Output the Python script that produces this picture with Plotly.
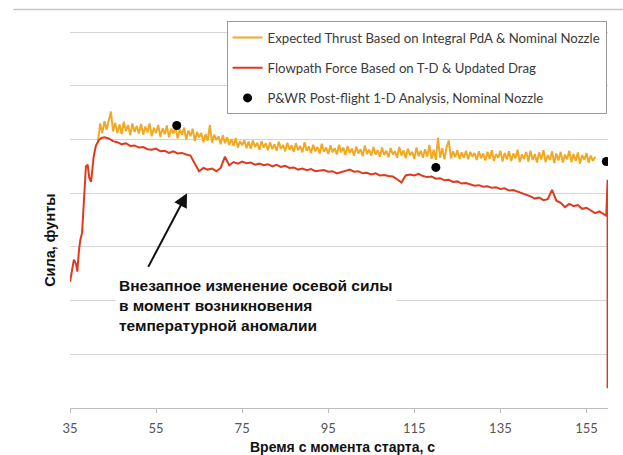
import numpy as np
import plotly.graph_objects as go

# --- Expected thrust (integral PdA, nominal nozzle), sampled every 0.5 s from 41.5 s
THRUST_T0 = 41.5
THRUST_DT = 0.5
thrust_vals = [
    4.95, 5.30, 5.12, 5.34, 5.18, 5.38, 5.52, 5.15, 5.31, 5.12,
    5.28, 5.10, 5.33, 5.16, 5.27, 5.08, 5.30, 5.14, 5.25, 5.11,
    5.29, 5.09, 5.24, 5.13, 5.30, 5.06, 5.22, 5.12, 5.27, 5.05,
    5.21, 5.10, 5.26, 5.04, 5.20, 5.11, 5.23, 5.02, 5.19, 5.09,
    5.22, 5.00, 5.17, 5.06, 5.20, 4.97, 5.14, 5.04, 5.12, 4.95,
    5.10, 4.98, 5.27, 4.94, 5.09, 4.99, 5.06, 4.91, 5.08, 4.93,
    5.04, 4.90, 5.01, 4.88, 5.03, 4.85, 4.97, 4.89, 4.99, 4.84,
    4.96, 4.83, 4.98, 4.86, 4.94, 4.81, 4.97, 4.85, 4.93, 4.80,
    4.95, 4.82, 4.91, 4.79, 4.96, 4.83, 4.90, 4.78, 4.94, 4.81,
    4.89, 4.77, 4.93, 4.80, 4.88, 4.76, 4.95, 4.79, 4.87, 4.75,
    4.90, 4.78, 4.86, 4.74, 4.92, 4.77, 4.85, 4.73, 4.89, 4.76,
    4.84, 4.72, 4.90, 4.76, 4.85, 4.71, 4.88, 4.75, 4.83, 4.70,
    4.87, 4.74, 4.82, 4.69, 4.89, 4.73, 4.81, 4.70, 4.86, 4.72,
    4.80, 4.68, 4.85, 4.71, 4.79, 4.67, 4.84, 4.72, 4.78, 4.66,
    4.86, 4.70, 4.80, 4.65, 4.83, 4.71, 4.77, 4.64, 4.85, 4.69,
    4.79, 4.66, 4.82, 4.68, 4.90, 4.64, 4.81, 4.62, 5.03, 4.66,
    4.84, 4.63, 4.86, 4.98, 4.65, 4.78, 4.67, 4.80, 4.64, 4.76,
    4.66, 4.79, 4.63, 4.77, 4.68, 4.75, 4.62, 4.78, 4.65, 4.74,
    4.61, 4.77, 4.64, 4.80, 4.60, 4.73, 4.66, 4.79, 4.59, 4.75,
    4.63, 4.78, 4.60, 4.74, 4.65, 4.81, 4.58, 4.72, 4.64, 4.77,
    4.59, 4.79, 4.62, 4.73, 4.57, 4.76, 4.63, 4.80, 4.58, 4.71,
    4.62, 4.78, 4.56, 4.74, 4.61, 4.77, 4.57, 4.72, 4.63, 4.79,
    4.58, 4.73, 4.60, 4.76, 4.55, 4.71, 4.62, 4.75, 4.57, 4.70,
    4.60, 4.68,
]

# --- Flowpath force (T-D & updated drag)
# ignition / ramp-up segment
force_ramp_t = [35.0, 35.9, 36.4, 36.7, 37.1, 37.4, 37.8, 38.2, 38.7, 39.1,
                39.5, 39.9, 40.5, 41.0, 41.7, 42.3]
force_ramp_v = [2.35, 2.76, 2.68, 2.54, 2.95, 3.13, 3.26, 3.87, 4.50, 4.53,
                4.28, 4.21, 4.68, 4.88, 4.99, 5.03]
# cruise segment, 1 s samples starting at 43 s
FORCE_T0 = 43.0
FORCE_DT = 1.0
force_cruise_v = [
    5.04, 5.02, 4.97, 4.95, 4.91, 4.93, 4.88, 4.89, 4.85, 4.86,
    4.82, 4.81, 4.83, 4.78, 4.79, 4.75, 4.78, 4.74, 4.75, 4.72,
    4.70, 4.55, 4.41, 4.47, 4.44, 4.46, 4.41, 4.47, 4.68, 4.52,
    4.58, 4.55, 4.59, 4.56, 4.57, 4.53, 4.55, 4.52, 4.54, 4.50,
    4.53, 4.49, 4.51, 4.47, 4.48, 4.44, 4.46, 4.43, 4.45, 4.41,
    4.42, 4.43, 4.40, 4.41, 4.37, 4.39, 4.42, 4.44, 4.40, 4.41,
    4.37, 4.38, 4.35, 4.37, 4.33, 4.34, 4.32, 4.31, 4.26, 4.20,
    4.33, 4.35, 4.33, 4.36, 4.32, 4.30, 4.31, 4.27, 4.28, 4.24,
    4.25, 4.21, 4.22, 4.18, 4.19, 4.16, 4.14, 4.15, 4.12, 4.13,
    4.10, 4.11, 4.08, 4.09, 4.05, 4.06, 4.03, 4.01, 3.98, 3.94,
    3.90, 3.92, 3.87, 3.89, 4.06, 3.86, 3.82, 3.74, 3.80, 3.76,
    3.78, 3.71, 3.73, 3.68, 3.63, 3.66, 3.61,
]
# end of flight
force_end_t = [159.6, 159.9, 159.9]
force_end_v = [3.58, 4.25, 0.37]

# --- P&WR post-flight 1-D analysis points
analysis_t = [59.8, 120.0, 159.6]
analysis_v = [5.26, 4.48, 4.59]

x_ticks = [35, 55, 75, 95, 115, 135, 155]

thrust_t = THRUST_T0 + THRUST_DT * np.arange(len(thrust_vals))
force_t = np.concatenate([force_ramp_t,
                          FORCE_T0 + FORCE_DT * np.arange(len(force_cruise_v)),
                          force_end_t])
force_v = np.concatenate([force_ramp_v, force_cruise_v, force_end_v])

YELLOW = "#f3a823"
RED = "#e03a1e"
LEGEND_FONT = dict(family="Lato, 'Open Sans', sans-serif", size=13.2, color="#3a3a3a")
BOLD = "Liberation Sans, Arial, sans-serif"

fig = go.Figure()
fig.add_trace(go.Scatter(
    x=thrust_t, y=thrust_vals, mode="lines",
    name="Expected Thrust Based on Integral PdA & Nominal Nozzle",
    line=dict(color=YELLOW, width=2), legendgroup="a"))
fig.add_trace(go.Scatter(
    x=force_t, y=force_v, mode="lines",
    name="Flowpath Force Based on T-D & Updated Drag",
    line=dict(color=RED, width=2), legendgroup="b"))
fig.add_trace(go.Scatter(
    x=analysis_t, y=analysis_v, mode="markers",
    name="P&WR Post-flight 1-D Analysis, Nominal Nozzle",
    marker=dict(color="black", size=9), legendgroup="c"))

fig.update_layout(
    width=623, height=455,
    margin=dict(l=70, r=15, t=16, b=47, autoexpand=False),
    paper_bgcolor="white", plot_bgcolor="white",
    showlegend=True,
    legend=dict(
        x=0.291, y=0.986, xanchor="left", yanchor="top",
        bgcolor="white", bordercolor="#9a9a9a", borderwidth=1,
        font=LEGEND_FONT, itemwidth=30, tracegroupgap=10,
        traceorder="grouped",
    ),
    xaxis=dict(
        range=[35, 160], tickvals=x_ticks, showgrid=False,
        showline=True, linecolor="#bdbdbd", linewidth=1.2,
        ticks="outside", ticklen=4, tickcolor="#bdbdbd",
        ticklabelstandoff=4,
        tickfont=dict(family="Lato, sans-serif", size=13, color="#555555"),
        zeroline=False,
    ),
    yaxis=dict(
        range=[0, 7.3], dtick=1, tick0=0, showticklabels=False,
        showgrid=True, gridcolor="#d8d4d4", gridwidth=1, zeroline=False,
        showline=False, ticks="",
    ),
)

# frame rule across the top of the page
fig.add_shape(type="line", xref="paper", yref="paper",
              x0=-0.105, x1=1.03, y0=1.0166, y1=1.0166,
              line=dict(color="#c4c4c4", width=1.5))

# axis titles
fig.add_annotation(text="<b>Сила, фунты</b>", xref="paper", yref="paper",
                   x=-0.055, y=0.43, textangle=-90, showarrow=False,
                   font=dict(family=BOLD, size=14.5, color="#111111"))
fig.add_annotation(text="<b>Время с момента старта, с</b>", xref="paper", yref="paper",
                   x=0.506, y=-0.0995, showarrow=False, yanchor="middle",
                   font=dict(family=BOLD, size=14, color="#111111"))

# callout
fig.add_annotation(
    text="<b>Внезапное изменение осевой силы<br>в момент возникновения<br>температурной аномалии</b>",
    x=45.4, y=1.90, xref="x", yref="y", xanchor="left", yanchor="middle",
    align="left", showarrow=False, bgcolor="white", borderpad=3,
    font=dict(family=BOLD, size=15.5, color="#111111"))
fig.add_annotation(
    text="", x=62.2, y=4.0, xref="x", yref="y",
    ax=53.0, ay=2.60, axref="x", ayref="y",
    showarrow=True, arrowhead=2, arrowsize=1.4, arrowwidth=2, arrowcolor="#111111")

fig.write_html("out.html")
